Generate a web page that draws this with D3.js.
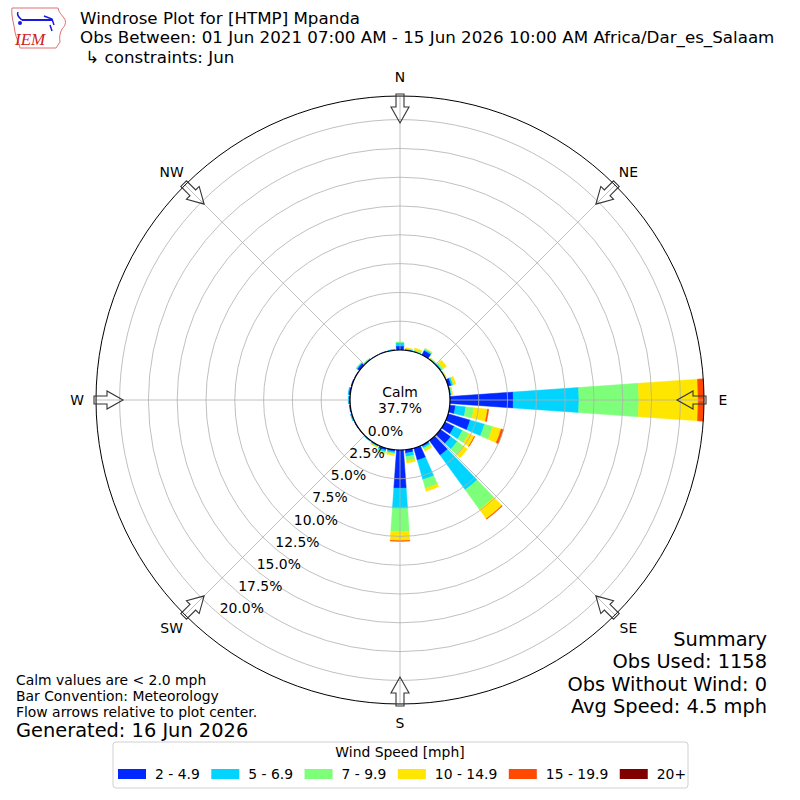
<!DOCTYPE html>
<html>
<head>
<meta charset="utf-8">
<script src="https://cdn.jsdelivr.net/npm/d3@7"></script>
<style>
  body { margin: 0; background: #fff; }
  svg text { font-family: "DejaVu Sans", sans-serif; fill: #000; }
</style>
</head>
<body>
<script>
// direction bins (deg, met convention) and speed classes
const directions = d3.range(0, 360, 10)
const speedLabels = ["2 - 4.9", "5 - 6.9", "7 - 9.9", "10 - 14.9", "15 - 19.9", "20+"]
const speedColors = ["#0028ff", "#00d4ff", "#7dff7a", "#ffe600", "#ff4800", "#800000"]

// percent of obs per direction, one array per speed class
//               0    10   20   30   40   50   60   70   80   90   100  110  120  130  140  150  160  170  180  190  200  210  220  230  240  250  260  270  280  290  300  310  320  330  340  350
const spd2_5   = [0.35,0.08,0.05,0.45,0.08,0.10,0.05,0.30,0.10,5.50,0.50,2.00,0.90,1.10,1.60,0.15,1.10,0.30,3.33,0.15,0.20,0.10,0.05,0.03,0.05,0.10,0.08,0.12,0.15,0.08,0.05,0.25,0.08,0.03,0.05,0.05]
const spd5_7   = [0.30,0.05,0.05,0.10,0.03,0.05,0.03,0.15,0.05,5.70,0.90,1.30,0.80,0.70,3.70,0.15,1.75,0.30,1.75,0.15,0.15,0.05,0.03,0.00,0.00,0.03,0.00,0.03,0.03,0.00,0.00,0.08,0.03,0.00,0.00,0.03]
const spd7_10  = [0.05,0.03,0.10,0.05,0.03,0.15,0.03,0.05,0.05,5.20,0.70,0.75,0.60,0.65,2.10,0.15,0.80,0.35,2.00,0.05,0.10,0.05,0.00,0.00,0.00,0.00,0.00,0.00,0.00,0.00,0.00,0.03,0.03,0.00,0.00,0.00]
const spd10_15 = [0.00,0.05,0.15,0.05,0.03,0.35,0.03,0.20,0.05,5.15,1.20,0.75,0.55,0.45,1.00,0.15,0.25,0.20,0.80,0.15,0.10,0.03,0.00,0.00,0.00,0.00,0.00,0.00,0.00,0.00,0.00,0.00,0.00,0.00,0.00,0.00]
const spd15_20 = [0.00,0.00,0.00,0.00,0.00,0.00,0.00,0.00,0.00,0.50,0.10,0.20,0.03,0.00,0.05,0.00,0.00,0.00,0.05,0.00,0.00,0.00,0.00,0.00,0.00,0.00,0.00,0.00,0.00,0.00,0.00,0.00,0.00,0.00,0.00,0.00]
const spd20up  = [0.00,0.00,0.00,0.00,0.00,0.00,0.00,0.00,0.00,0.00,0.00,0.00,0.00,0.00,0.00,0.00,0.00,0.00,0.00,0.00,0.00,0.00,0.00,0.00,0.00,0.00,0.00,0.00,0.00,0.00,0.00,0.00,0.00,0.00,0.00,0.00]
const series = [spd2_5, spd5_7, spd7_10, spd10_15, spd15_20, spd20up]

const calmPct = 37.7
const ringTicks = [0, 2.5, 5, 7.5, 10, 12.5, 15, 17.5, 20]
const compass = ["N", "NE", "E", "SE", "S", "SW", "W", "NW"]

const titleLines = [
    "Windrose Plot for [HTMP] Mpanda",
    "Obs Between: 01 Jun 2021 07:00 AM - 15 Jun 2026 10:00 AM Africa/Dar_es_Salaam",
    " \u21b3 constraints: Jun"
]
const noteLines = ["Calm values are < 2.0 mph", "Bar Convention: Meteorology", "Flow arrows relative to plot center."]
const summaryLines = ["Summary", "Obs Used: 1158", "Obs Without Wind: 0", "Avg Speed: 4.5 mph"]

const W = 800, H = 800, cx = 400, cy = 400
const svg = d3.select("body").append("svg").attr("width", W).attr("height", H)

// stack the speed classes per direction
const rows = directions.map((d, i) => {
    const o = {dir: d}
    series.forEach((s, k) => o[k] = s[i])
    return o
})
const stack = d3.stack().keys(d3.range(series.length))(rows)
const totals = rows.map((o, i) => d3.sum(series, s => s[i]))

const r = d3.scaleLinear().domain([0, d3.max(totals)]).range([50, 304])
const rad = d => d * Math.PI / 180
const pt = (R, a) => [cx + R * Math.sin(a), cy - R * Math.cos(a)]

// 8 deg wide wedges (80% of the 10 deg bin)
const barWidth = rad(8)
const arc = d3.arc()

// bars
const gBars = svg.append("g").attr("transform", `translate(${cx},${cy})`)
stack.forEach((layer, k) => {
    gBars.append("g")
        .selectAll("path")
        .data(layer.filter(d => d[1] - d[0] > 0))
        .join("path")
        .attr("d", d => arc({
            innerRadius: r(d[0]), outerRadius: r(d[1]),
            startAngle: rad(d.data.dir) - barWidth / 2,
            endAngle: rad(d.data.dir) + barWidth / 2
        }))
        .attr("fill", speedColors[k])
        .attr("stroke", speedColors[k])
        .attr("stroke-width", 0.5)
})

// grid rings + spokes on top of the bars
const gGrid = svg.append("g").attr("fill", "none").attr("stroke", "#b0b0b0").attr("stroke-width", 0.8)
gGrid.selectAll("circle").data(ringTicks.slice(1)).join("circle")
    .attr("cx", cx).attr("cy", cy).attr("r", d => r(d))
gGrid.selectAll("line").data(d3.range(0, 360, 45)).join("line")
    .attr("x1", cx).attr("y1", cy)
    .attr("x2", d => pt(r.range()[1], rad(d))[0])
    .attr("y2", d => pt(r.range()[1], rad(d))[1])

svg.append("circle").attr("cx", cx).attr("cy", cy).attr("r", r.range()[1])
    .attr("fill", "none").attr("stroke", "#000").attr("stroke-width", 1)

// calm circle
svg.append("circle").attr("cx", cx).attr("cy", cy).attr("r", r(0))
    .attr("fill", "#fff").attr("stroke", "#000").attr("stroke-width", 1.2)
svg.append("text").attr("x", cx).attr("y", 397).attr("text-anchor", "middle")
    .style("font-size", "13.9px").text("Calm")
svg.append("text").attr("x", cx).attr("y", 413).attr("text-anchor", "middle")
    .style("font-size", "13.9px").text(calmPct.toFixed(1) + "%")

// ring labels along 220 deg
svg.append("g").selectAll("text").data(ringTicks).join("text")
    .attr("x", d => pt(r(d), rad(220))[0])
    .attr("y", d => pt(r(d), rad(220))[1] - 2)
    .style("font-size", "13.9px")
    .text(d => d.toFixed(1) + "%")

// compass labels
svg.append("g").selectAll("text").data(compass).join("text")
    .attr("x", (d, i) => pt(323, rad(i * 45))[0])
    .attr("y", (d, i) => pt(323, rad(i * 45))[1])
    .attr("text-anchor", "middle").attr("dy", "0.36em")
    .style("font-size", "13.9px")
    .text(d => d)

// flow arrows pointing to center
function arrow(dir) {
    const t = rad(dir)
    const loc = (u, v) => [cx + u * Math.sin(t) + v * Math.cos(t), cy - u * Math.cos(t) + v * Math.sin(t)]
    return d3.line()([loc(277, 0), loc(293, 9), loc(293, 4), loc(306, 4), loc(306, -4), loc(293, -4), loc(293, -9)]) + "Z"
}
svg.append("g").selectAll("path").data(d3.range(0, 360, 45)).join("path")
    .attr("d", arrow).attr("fill", "none").attr("stroke", "#333").attr("stroke-width", 1.1)

// titles
svg.append("g").selectAll("text").data(titleLines).join("text")
    .attr("x", 80).attr("y", (d, i) => 23.5 + i * 19.5)
    .attr("xml:space", "preserve")
    .style("font-size", "16.7px")
    .text(d => d)

// notes bottom left
svg.append("g").selectAll("text").data(noteLines).join("text")
    .attr("x", 16).attr("y", (d, i) => 685 + i * 16)
    .style("font-size", "13.9px").text(d => d)
svg.append("text").attr("x", 16).attr("y", 737).style("font-size", "19.4px").text("Generated: 16 Jun 2026")

// summary bottom right
svg.append("g").selectAll("text").data(summaryLines).join("text")
    .attr("x", 767).attr("y", (d, i) => 646 + i * 22.3)
    .attr("text-anchor", "end")
    .style("font-size", "19.4px").text(d => d)

// legend
const lg = svg.append("g")
lg.append("rect").attr("x", 113).attr("y", 742).attr("width", 575).attr("height", 46)
    .attr("rx", 3).attr("fill", "#fff").attr("stroke", "#d0d0d0")
lg.append("text").attr("x", 400).attr("y", 757).attr("text-anchor", "middle")
    .style("font-size", "13.9px").text("Wind Speed [mph]")
let lx = 118
speedLabels.forEach((lab, k) => {
    lg.append("rect").attr("x", lx).attr("y", 769).attr("width", 28).attr("height", 10).attr("fill", speedColors[k])
    const t = lg.append("text").attr("x", lx + 37).attr("y", 779).style("font-size", "13.9px").text(lab)
    lx += 37 + t.node().getComputedTextLength() + 11.5
})

// IEM logo (rough)
const logo = svg.append("g").attr("transform", "translate(4,4)")
logo.append("path")
    .attr("d", "M8,4 L54,4 C55,9 58,11 60,14 C63,18 61,22 58,25 C56,29 55,33 56,38 L52,44 L16,44 C15,38 12,34 11,28 C10,20 7,12 8,4 Z")
    .attr("fill", "none").attr("stroke", "#e07070").attr("stroke-width", 1)
logo.append("path").attr("d", "M18,16 L48,16").attr("stroke", "#1a1adb").attr("stroke-width", 2)
logo.append("path").attr("d", "M14,8 C12,12 16,14 18,16 M40,12 L48,15 L50,21 M46,21 L48,27")
    .attr("fill", "none").attr("stroke", "#1a1adb").attr("stroke-width", 1.5)
logo.append("circle").attr("cx", 16).attr("cy", 19).attr("r", 2).attr("fill", "#1a1adb")
logo.append("text").attr("x", 11).attr("y", 41)
    .style("font-family", "Liberation Serif, serif").style("font-style", "italic")
    .style("font-size", "17px").style("fill", "#d02020").text("IEM")
</script>
</body>
</html>
